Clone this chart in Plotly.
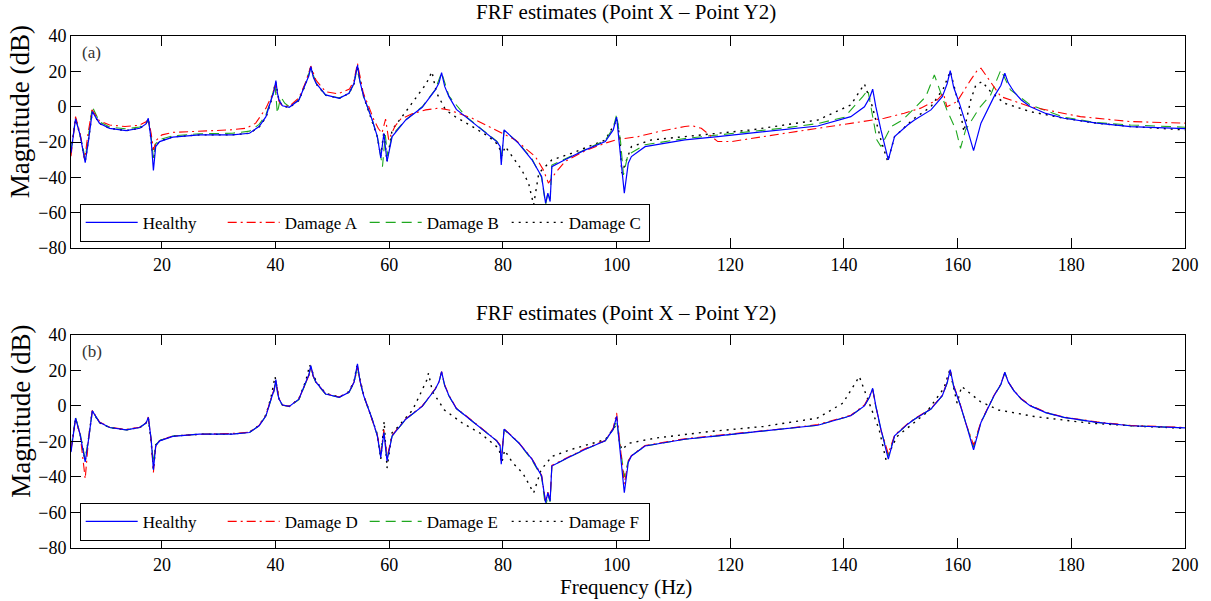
import plotly.graph_objects as go

# ---------------- data ----------------
X_TICKS = [20, 40, 60, 80, 100, 120, 140, 160, 180, 200]
Y_TICKS = [-80, -60, -40, -20, 0, 20, 40]
TITLE = "FRF estimates (Point X \u2013 Point Y2)"

# Healthy (same curve in both panels); Damage D / E share this frequency grid
FREQ_H = [4.0, 4.8, 5.6, 6.5, 7.1, 7.75, 9.0, 10.8, 13.7, 16.1,
          17.2, 17.6, 18.1, 18.5, 18.9, 19.6, 21.9, 26.6, 32.4, 35.4,
          37.1, 38.3, 39.2, 39.7, 40.05, 40.3, 40.6, 41.2, 42.4, 44.1,
          45.3, 45.85, 46.2, 46.6, 47.1, 48.8, 51.2, 52.9, 53.8, 54.1,
          54.4, 54.85, 55.5, 57.0, 57.9, 58.5, 59.05, 59.6, 60.5, 62.9,
          65.8, 68.1, 68.75, 69.2, 69.75, 70.5, 71.8, 73.4, 76.3, 78.9,
          79.5, 79.7, 80.2, 82.7, 85.1, 86.8, 87.5, 87.9, 88.3, 88.6,
          90.9, 94.5, 98.0, 99.4, 100.0, 101.35, 102.05, 102.6, 105.0, 112.0,
          117.8, 123.7, 129.6, 135.4, 141.2, 143.6, 144.5, 145.05, 145.6, 146.5,
          147.8, 148.9, 151.2, 152.4, 155.3, 157.3, 158.15, 158.7, 159.3, 160.3,
          161.4, 162.8, 164.1, 166.4, 167.6, 168.3, 168.9, 169.9, 171.2, 172.8,
          175.5, 178.7, 184.5, 190.4, 200.0]
DB_H = [-26, -6.9, -16, -31.6, -18.8, -2.8, -9.3, -12.2, -13.5, -12.2,
        -9.7, -6.5, -18.8, -36, -22.5, -19.7, -17.2, -15.9, -15.9, -15,
        -11.2, -5.6, 3.8, 8.5, 14.8, 8, 3.8, 0.5, -0.3, 3.8,
        13.3, 17.5, 22.7, 17, 13.3, 6.7, 4.8, 7.6, 13.3, 17.5,
        23.6, 14, 5.7, -7.5, -16.9, -29, -15, -31, -16.9, -7.5,
        -0.3, 9.5, 13.5, 19.3, 11.5, 5.7, -1.5, -5.6, -13.1, -19.7,
        -22.5, -32.9, -13.1, -20.6, -30, -39.5, -54.5, -48.9, -53.6, -33.9,
        -30, -24.4, -19.7, -13.1, -5.9, -48.9, -31.9, -28.2, -22.6, -18.8,
        -16.9, -15, -13.1, -10.9, -5.6, 0, 5, 9.9, 0, -13.1,
        -30, -16.9, -10.3, -7.5, -1.8, 5.7, 13, 20.4, 11, 2,
        -9.3, -24.8, -9.3, 5.7, 12, 18.9, 13.5, 8.5, 3.8, 0,
        -3.8, -6.5, -9.3, -11.2, -12.4]

# Damage A (panel a)
FREQ_A = [4.0, 4.8, 5.6, 6.4, 7.0, 7.7, 9.0, 10.8, 13.5, 16.0,
          17.2, 17.6, 18.1, 18.5, 19.0, 20.0, 22.0, 27.0, 32.0, 34.8,
          36.5, 38.3, 39.3, 40.0, 40.6, 41.2, 42.4, 44.1, 45.3, 46.2,
          47.1, 48.8, 51.0, 53.0, 53.8, 54.4, 55.4, 56.4, 57.3, 58.05,
          58.7, 59.35, 59.9, 61.0, 62.0, 64.0, 66.4, 68.7, 70.5, 74.6,
          78.1, 82.2, 85.7, 87.1, 88.0, 89.2, 90.9, 94.5, 98.0, 100.3,
          103.8, 107.3, 112.0, 113.2, 114.9, 117.8, 120.2, 123.7, 129.6, 135.4,
          141.2, 147.1, 150.6, 153.5, 156.4, 157.5, 158.1, 159.9, 162.3, 163.5,
          164.1, 165.5, 167.6, 172.8, 181.6, 190.4, 200.0]
DB_A = [-28, -5.6, -15, -30, -15, -1.8, -8, -10.3, -11.2, -10.5,
        -8.5, -7, -15, -24.4, -19, -15.9, -14.5, -14, -13.1, -12.2,
        -9.3, -0.8, 6, 12, 3, 0.5, 0.3, 5, 14, 23,
        15, 8.5, 7.3, 10, 15, 24.6, 8, 0, -7.5, -12.2,
        -15, -7, -18.8, -11, -7, -4, -1.8, -0.8, -1.8, -6.5,
        -12.2, -18.8, -28.2, -35.7, -43.2, -37.6, -31, -24.8, -20.6, -18.4,
        -16.9, -14.1, -11.2, -10.7, -12.2, -19.7, -19.7, -17.8, -15, -12.2,
        -9.3, -6.5, -3.7, -0.8, 3.8, 7.6, 0, 2.9, 15.2, 20.8,
        21.8, 15.2, 5.7, 0, -5.6, -8.4, -9.3]

# Damage B (panel a)
FREQ_B = [4.0, 4.8, 5.6, 6.5, 7.1, 7.75, 9.0, 10.8, 13.7, 16.1,
          17.2, 17.6, 18.1, 18.5, 18.9, 19.6, 21.9, 26.6, 32.4, 35.4,
          37.1, 38.3, 39.3, 39.9, 40.3, 40.9, 41.6, 42.4, 44.1, 45.3,
          46.2, 47.1, 48.8, 51.2, 52.9, 53.8, 54.3, 55.5, 57.0, 57.9,
          58.8, 59.3, 59.7, 60.5, 62.9, 65.8, 68.1, 69.2, 70.5, 73.4,
          76.3, 78.9, 79.5, 79.7, 80.2, 82.7, 85.1, 86.8, 87.5, 87.9,
          88.3, 88.6, 90.9, 94.5, 98.0, 99.4, 100.0, 100.7, 101.2, 102.0,
          102.6, 105.0, 112.0, 117.8, 123.7, 129.6, 135.4, 140.1, 143.3, 144.2,
          145.8, 146.5, 148.3, 150.3, 151.8, 154.4, 155.9, 157.0, 158.1, 159.7,
          160.5, 161.4, 163.8, 165.8, 167.6, 169.3, 172.8, 178.7, 184.5, 190.4,
          200.0]
DB_B = [-25, -6.5, -16, -29, -16, 0, -8.5, -11.5, -12.5, -11.5,
        -9, -7.5, -17, -29, -21, -18.5, -16.5, -15.3, -15, -13.8,
        -10, -4.5, 5, 12.5, -3.7, 5.7, 2, 0, 4, 13.5,
        22, 13.5, 6.5, 5, 7.5, 13, 21.5, 5.7, -7.5, -17,
        -33.9, -16, -28, -16, -7.3, 0, 9.7, 19.3, 6, -5.3,
        -12.8, -19.5, -22, -30, -13.5, -20.3, -29.5, -40, -55.5, -49,
        -52, -33, -29.5, -24, -19, -12, -4.5, -20, -38.6, -27,
        -26, -21.5, -18, -16, -14, -12, -9.5, -5.9, 5.7, 9.5,
        -18.8, -22.5, -11.2, -7.5, -2.8, 5.7, 18, 7.6, -1.8, -13.1,
        -23.5, -13.1, -0.8, 6.7, 20.8, 9.5, 1, -5.9, -9, -10.3,
        -11.6]

# Damage C (panel a)
FREQ_C = [4.0, 4.8, 5.6, 6.5, 7.1, 7.75, 9.0, 10.8, 13.7, 16.1,
          17.2, 17.6, 18.1, 18.5, 18.9, 19.6, 21.9, 26.6, 32.4, 35.4,
          37.1, 38.3, 39.2, 40.0, 40.6, 41.2, 42.4, 44.1, 45.3, 46.2,
          47.1, 48.8, 51.2, 52.9, 53.8, 54.4, 55.5, 57.0, 57.9, 58.5,
          59.05, 59.6, 60.5, 62.9, 65.2, 66.5, 67.5, 68.3, 69.9, 71.6,
          74.6, 77.5, 79.2, 79.8, 80.4, 81.6, 83.3, 84.5, 85.4, 86.3,
          88.6, 92.1, 98.0, 99.7, 100.1, 100.6, 100.9, 102.6, 106.1, 112.0,
          117.8, 123.7, 129.6, 135.4, 141.2, 143.6, 145.0, 146.5, 147.7, 148.9,
          151.2, 152.4, 155.3, 157.5, 158.7, 160.3, 161.1, 162.3, 163.2, 164.3,
          165.8, 168.2, 172.8, 178.7, 184.5, 190.4, 200.0]
DB_C = [-25, -7, -16, -31, -18, -3, -9.5, -12.2, -13.5, -12.2,
        -9.7, -7, -19, -30, -22, -19.5, -17, -15.9, -15.9, -15,
        -11.5, -6, 3, 14, 3.5, 0.5, -0.5, 3.5, 13, 22.5,
        13, 6.5, 4.8, 7.5, 13, 23, 5.5, -8, -17, -28,
        -14, -31, -13.1, -2.8, 7.6, 13, 19.8, 8, -1.8, -5.6,
        -11.2, -16.9, -21.6, -27.8, -22.5, -28.2, -35.7, -43.2, -55.5, -37.6,
        -30.1, -26.3, -18.8, -9.3, -8, -18.8, -37.6, -22.6, -18.8, -16.9,
        -15, -13.1, -10.3, -7.5, 1, 12.9, 0, -18.8, -31, -16.9,
        -10, -6.5, 0, 10.4, 20, 0, -14, 3.8, 12.3, 14.2,
        8.5, 2, -2.8, -6.5, -9.3, -11.2, -13.1]

# Damage D (panel b), on FREQ_H
DB_D = [-25, -7.5, -16, -41, -18, -2.5, -9, -12, -13.3, -12,
        -9.5, -6.3, -19.5, -37.5, -23, -19.5, -17, -16, -15.5, -14.8,
        -11, -5.3, 4.5, 9, 14, 8, 4, 0.5, -0.3, 4,
        13.5, 17, 22, 16.8, 13.5, 6.8, 5, 7.8, 13.5, 17,
        22.5, 14, 6, -7.3, -16.5, -27, -13.5, -29, -16.5, -7.3,
        0, 9.7, 13.5, 19.3, 11.8, 6, -1.3, -5.3, -12.8, -19.5,
        -22, -31, -13, -20.3, -29.8, -39, -54, -48.5, -53, -33.5,
        -29.8, -24, -19.5, -12.5, -4, -44, -31, -28, -22.3, -18.5,
        -16.5, -14.8, -12.8, -10.5, -5.3, 0.5, 5.3, 9, 0, -13.5,
        -27, -16.5, -10, -7.3, -1.5, 6, 13.3, 20, 11.5, 2.5,
        -9.5, -22, -9, 6, 12.3, 18.7, 13.5, 8.7, 4, 0.3,
        -3.6, -6.3, -9, -11, -12.2]

# Damage E (panel b), on FREQ_H
DB_E = [-24, -6.5, -15.5, -30, -18, -2.8, -9.3, -12.2, -13.5, -12.2,
        -9.7, -6.8, -18.5, -32, -22, -19.5, -17, -15.9, -15.8, -15,
        -11.2, -5.6, 3.5, 8, 13.5, 7.5, 3.5, 0.3, -0.3, 3.5,
        13, 17, 22, 16.8, 13, 6.5, 4.8, 7.5, 13, 17,
        22.5, 13.5, 5.5, -7.5, -16.9, -28, -14.5, -30, -17, -7.5,
        -0.3, 9.5, 13.3, 19, 11.3, 5.5, -1.5, -5.6, -13.1, -19.7,
        -22.5, -30, -13.5, -20.6, -30.5, -40, -57.5, -50, -54, -34,
        -30, -24.4, -19.7, -13.3, -8, -40, -31, -28, -22.6, -18.8,
        -16.9, -15, -13.1, -10.9, -5.6, 0, 5, 9.5, -0.5, -13.5,
        -28, -17, -10.3, -7.5, -1.8, 5.7, 12.8, 19.8, 10.8, 2,
        -9.3, -23, -9.3, 5.7, 12, 18.7, 13.3, 8.5, 3.8, 0,
        -3.8, -6.5, -9.3, -11.2, -12.4]

# Damage F (panel b)
FREQ_F = [4.0, 4.8, 5.6, 6.5, 7.1, 7.75, 9.0, 10.8, 13.7, 16.1,
          17.2, 17.6, 18.1, 18.5, 18.9, 19.6, 21.9, 26.6, 32.4, 35.4,
          37.1, 38.3, 39.2, 39.9, 40.6, 41.2, 42.4, 44.1, 45.3, 46.0,
          47.1, 48.8, 51.2, 52.9, 53.8, 54.3, 55.5, 57.0, 57.9, 58.5,
          59.1, 59.6, 60.5, 61.6, 64.1, 65.5, 66.6, 66.9, 67.6, 69.7,
          72.9, 76.0, 78.5, 79.3, 79.8, 80.3, 81.7, 83.5, 85.4, 86.7,
          88.6, 91.7, 98.0, 99.6, 100.1, 100.5, 100.9, 102.2, 106.7, 116.2,
          125.8, 135.3, 139.8, 142.7, 144.9, 146.2, 147.4, 149.3, 154.4, 157.6,
          158.6, 159.9, 160.7, 162.2, 164.0, 167.2, 173.5, 183.1, 192.7, 200.0]
DB_F = [-25, -7, -16, -31, -18, -3, -9.5, -12.2, -13.5, -12.2,
        -9.7, -6.5, -20, -36, -22, -19.5, -17, -16, -15.9, -14.8,
        -11, -5, 5, 16.5, 4, 0.5, -0.3, 4, 14, 23,
        14, 7, 5, 8, 14, 22.5, 6, -7, -16, -30,
        -8.8, -35, -15, -11.6, -2.3, 7, 14.6, 18.4, 8, -2.3,
        -9.8, -15.4, -22, -24, -32, -25, -32, -37.9, -49, -36,
        -28.5, -24.8, -19, -12, -10, -20, -24.7, -21, -18.2, -14.5,
        -11.6, -6.9, 1.5, 16.5, -2.3, -13.5, -30.4, -17.3, -4.1, 10,
        20.2, 1.5, 10.9, 7.1, 2.4, -2.3, -6, -9.7, -11.6, -12.6]

for fx, fy in [(FREQ_H, DB_H), (FREQ_A, DB_A), (FREQ_B, DB_B), (FREQ_C, DB_C),
               (FREQ_H, DB_D), (FREQ_H, DB_E), (FREQ_F, DB_F)]:
    assert len(fx) == len(fy), (len(fx), len(fy))

# ---------------- styling ----------------
FONT = "Liberation Serif"
BLUE, RED, GREEN, BLACK = "#0000ff", "#ff0000", "#1fa81f", "#000000"
DASHDOT = "9px,4px,2px,4px"
DASHED = "10px,6px"
DOTTED = "2px,5px"

fig = go.Figure()


def add(x, y, name, color, dash, width, xa, ya, legend, rank):
    fig.add_trace(go.Scatter(
        x=x, y=y, mode="lines", name=name,
        line=dict(color=color, dash=dash, width=width),
        xaxis=xa, yaxis=ya, legend=legend, legendrank=rank))


# panel (a)
add(FREQ_C, DB_C, "Damage C", BLACK, DOTTED, 1.4, "x", "y", "legend", 4)
add(FREQ_B, DB_B, "Damage B", GREEN, DASHED, 1.1, "x", "y", "legend", 3)
add(FREQ_A, DB_A, "Damage A", RED, DASHDOT, 1.1, "x", "y", "legend", 2)
add(FREQ_H, DB_H, "Healthy", BLUE, "solid", 1.2, "x", "y", "legend", 1)
# panel (b)
add(FREQ_F, DB_F, "Damage F", BLACK, DOTTED, 1.4, "x2", "y2", "legend2", 4)
add(FREQ_H, DB_E, "Damage E", GREEN, DASHED, 1.1, "x2", "y2", "legend2", 3)
add(FREQ_H, DB_D, "Damage D", RED, DASHDOT, 1.1, "x2", "y2", "legend2", 2)
add(FREQ_H, DB_H, "Healthy", BLUE, "solid", 1.2, "x2", "y2", "legend2", 1)

axis_common = dict(showline=True, linecolor="black", linewidth=1, mirror="ticks",
                   ticks="inside", ticklen=10, tickcolor="black", tickwidth=1,
                   showgrid=False, zeroline=False,
                   tickfont=dict(family=FONT, size=18, color="black"))

legend_common = dict(xanchor="left", yanchor="bottom", orientation="h",
                     bordercolor="black", borderwidth=1, bgcolor="white",
                     font=dict(family=FONT, size=17, color="black"),
                     itemwidth=52, entrywidth=75, entrywidthmode="pixels",
                     traceorder="normal")

fig.update_layout(
    width=1211, height=601, autosize=False,
    paper_bgcolor="white", plot_bgcolor="white",
    margin=dict(l=71, r=23, t=36, b=53),
    font=dict(family=FONT, color="black"),
    xaxis=dict(domain=[0, 1], anchor="y", range=[4, 200], tickvals=X_TICKS, **axis_common),
    yaxis=dict(domain=[0.5856, 1], anchor="x", range=[-80, 40], tickvals=Y_TICKS, **axis_common),
    xaxis2=dict(domain=[0, 1], anchor="y2", range=[4, 200], tickvals=X_TICKS, **axis_common),
    yaxis2=dict(domain=[0, 0.4164], anchor="x2", range=[-80, 40], tickvals=Y_TICKS, **axis_common),
    legend=dict(x=0.0078, y=0.598, **legend_common),
    legend2=dict(x=0.0078, y=0.014, **legend_common),
)

ann = []
for yt in (1.0468, 0.4593):
    ann.append(dict(text=TITLE, x=0.4985, y=yt, xref="paper", yref="paper",
                    xanchor="center", yanchor="middle", showarrow=False,
                    font=dict(family=FONT, size=21, color="black")))
ann.append(dict(text="(a)", x=0.0078, y=0.9668, xref="paper", yref="paper",
                xanchor="left", yanchor="middle", showarrow=False,
                font=dict(family=FONT, size=17, color="#333333")))
ann.append(dict(text="(b)", x=0.0078, y=0.3832, xref="paper", yref="paper",
                xanchor="left", yanchor="middle", showarrow=False,
                font=dict(family=FONT, size=17, color="#333333")))
for yc in (0.8526, 0.268):
    ann.append(dict(text="Magnitude (dB)", x=-0.045, y=yc, xref="paper", yref="paper",
                    xanchor="center", yanchor="middle", textangle=-90, showarrow=False,
                    font=dict(family=FONT, size=27, color="black")))
ann.append(dict(text="Frequency (Hz)", x=0.4985, y=-0.0755, xref="paper", yref="paper",
                xanchor="center", yanchor="middle", showarrow=False,
                font=dict(family=FONT, size=21, color="black")))
fig.update_layout(annotations=ann)

fig.write_html("out.html")
